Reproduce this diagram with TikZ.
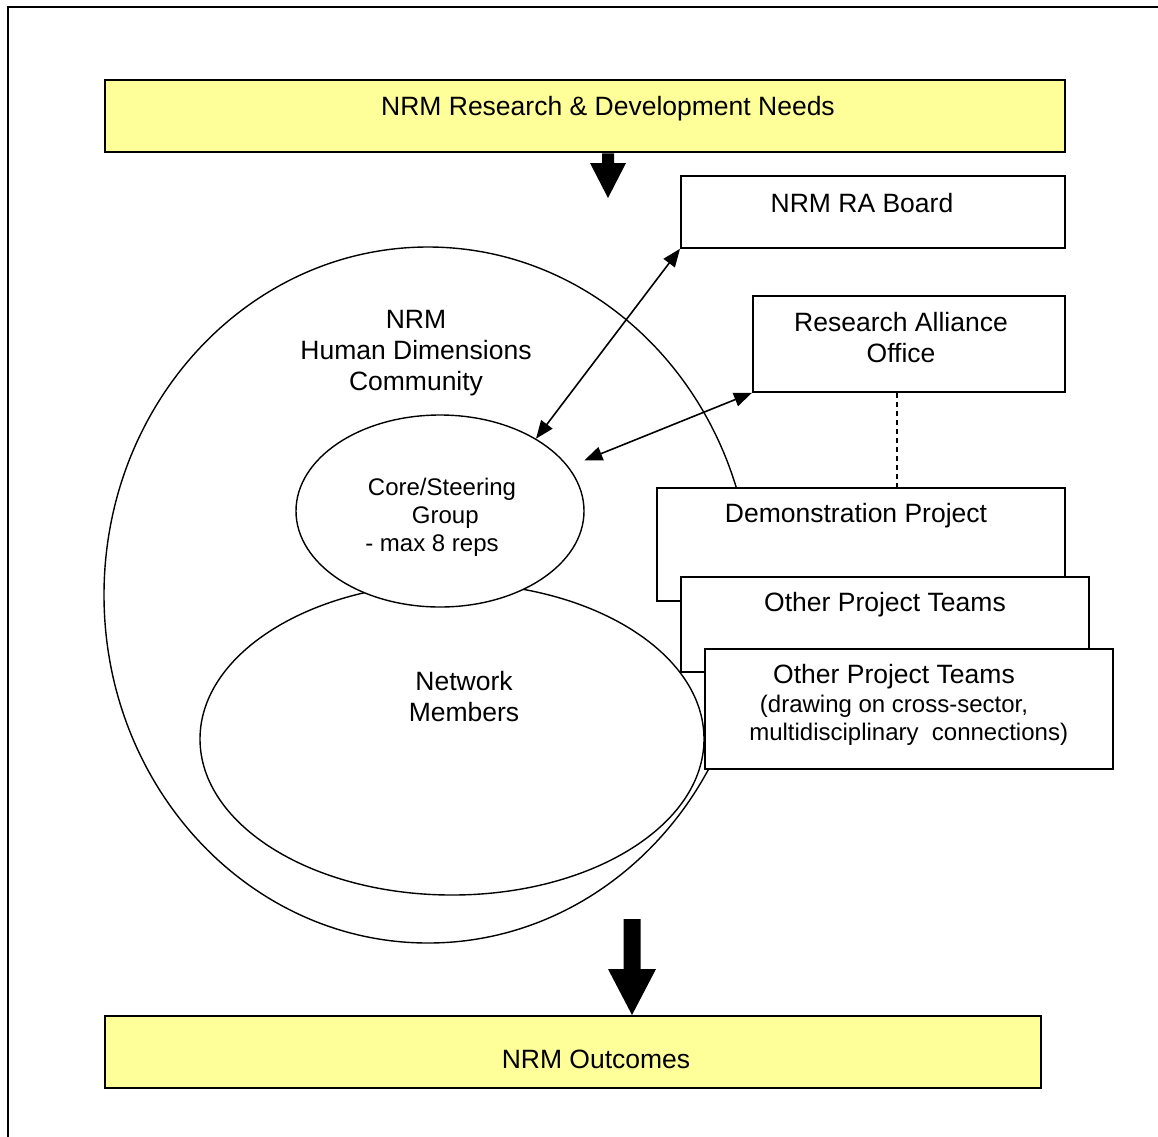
\documentclass[tikz,border=0pt]{standalone}
\usepackage{fontspec}
\setmainfont{Liberation Sans}
\usetikzlibrary{arrows.meta,positioning,shapes.geometric,calc}
\definecolor{needyellow}{RGB}{255,255,153}
% #1 start, #2 tip, #3 half shaft, #4 half head, #5 head length
\newcommand{\blockarrow}[5]{%
  \fill ($(#1)+(-#3,0)$) -- ($(#2)+(-#3,-#5)$) -- ($(#2)+(-#4,-#5)$) -- (#2)
    -- ($(#2)+(#4,-#5)$) -- ($(#2)+(#3,-#5)$) -- ($(#1)+(#3,0)$) -- cycle;}

\begin{document}
\begin{tikzpicture}[x=1pt,y=-1pt,>={Triangle[length=18pt,width=14pt]},
  every node/.style={font=\fontsize{26.5}{31}\selectfont},
  small/.style={font=\fontsize{24}{28}\selectfont},
  box/.style={draw,fill=white,line width=1.8pt,inner sep=0pt,anchor=north west},
  needbox/.style={draw,fill=needyellow,line width=2.4pt,inner sep=0pt,anchor=north west},
  oval/.style={draw,ellipse,line width=1.4pt,inner sep=0pt}]
  \useasboundingbox (0,0) rectangle (1158,1136);
  \draw[line width=2.5pt] (8,1200) -- (8,7) -- (1200,7);

  % circles of the community
  \node[oval,minimum width=648pt,minimum height=696pt] (community) at (428,595) {};
  \node[oval,minimum width=504pt,minimum height=312pt] (network) at (452,739) {};
  \node[oval,fill=white,minimum width=288pt,minimum height=192pt] (core) at (440,511) {};
  \node[small,align=center] (coretext) at (442,517) {Core/Steering\\\ Group\\- max 8 reps\hspace*{20pt}};
  \node[align=center] (commtext) at (416,353) {NRM\\Human Dimensions\\Community};
  \node[align=center] (nettext) at (464,697) {Network\\Members};

  % top and bottom
  \node[needbox,minimum width=960pt,minimum height=72pt] (needs) at (104,79) {};
  \node (needstext) at (608,109) {NRM Research \& Development Needs};
  \node[needbox,minimum width=936pt,minimum height=72pt] (outcomes) at (104,1015) {};
  \node (outtext) at (596,1059) {NRM Outcomes};

  \coordinate (tipA) at (608,198);
  \coordinate (startA) at (needs.south -| tipA);
  \blockarrow{startA}{tipA}{6}{18}{35}
  \coordinate (startB) at (632,919);
  \coordinate (tipB) at (startB |- outcomes.north);
  \blockarrow{startB}{tipB}{8.5}{24}{46}

  % boxes on the right
  \node[box,minimum width=384pt,minimum height=72pt] (board) at (680,175) {};
  \node (boardtext) at (862,203) {NRM RA Board};
  \node[box,minimum width=312pt,minimum height=96pt] (office) at (752,295) {};
  \node[align=center] (officetext) at (901,338) {Research Alliance\\Office};
  \node[box,minimum width=408pt,minimum height=113pt] (demo) at (656,487) {};
  \node (demotext) at (856,516) {Demonstration Project};
  \node[box,minimum width=408pt,minimum height=95pt] (teams) at (680,576) {};
  \node (teamstext) at (885,605) {Other Project Teams};
  \node[box,minimum width=408pt,minimum height=120pt] (teamsb) at (704,648) {};
  \node (teamsbtext) at (894,677) {Other Project Teams};
  \node[small,align=center] (teamsbnote) at (902,720)
    {(drawing on cross-sector,\hspace*{16pt}\\\ \ multidisciplinary\ \ connections)};

  \coordinate (dashtop) at ($(office.south)+(-12,0)$);
  \draw[line width=1.2pt,dash pattern=on 5pt off 4pt] (dashtop) -- (dashtop |- demo.north);
  \draw[<->,line width=1.6pt] (board.south west) -- (core.37);
  \draw[<->,line width=1.6pt,shorten >=17pt] (office.south west) -- (core.19);
\end{tikzpicture}
\end{document}
